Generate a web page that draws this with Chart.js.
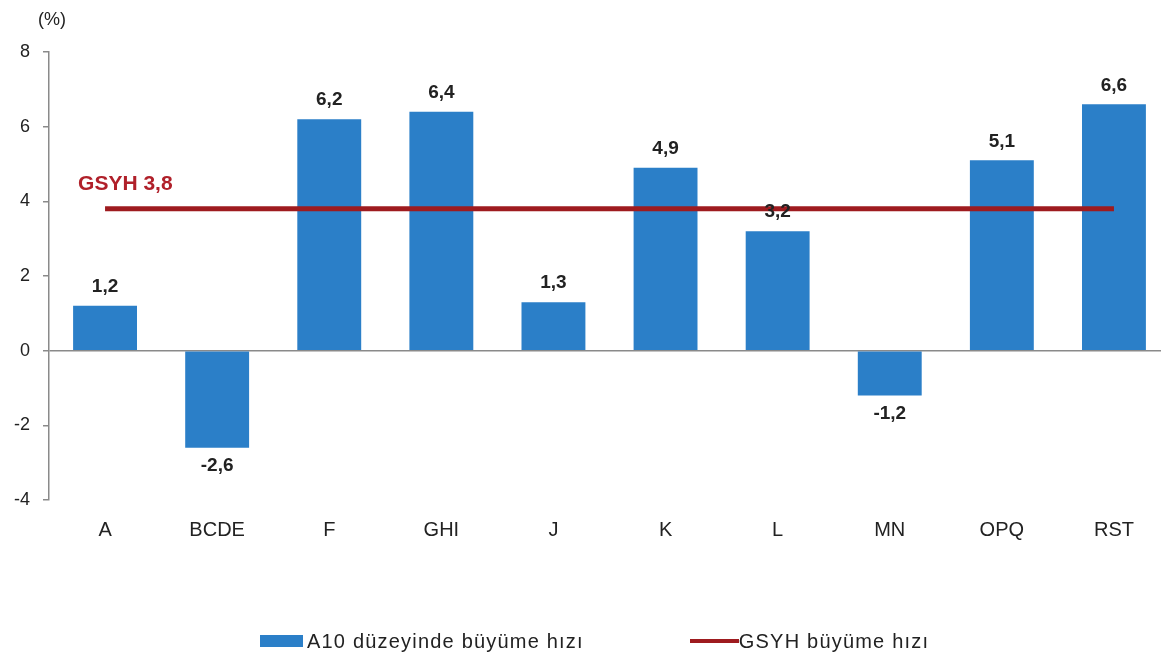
<!DOCTYPE html>
<html>
<head>
<meta charset="utf-8">
<script src="https://cdn.jsdelivr.net/npm/chart.js@4.4.1/dist/chart.umd.min.js"></script>
<style>
  html, body { margin: 0; padding: 0; background: #fff; overflow: hidden; }
  #wrap { position: relative; width: 1172px; height: 657px; }
  #legend {
    position: absolute; left: 0; top: 629px; height: 24px;
    display: flex; align-items: center;
    font: 20px 'Liberation Sans', Arial, sans-serif; letter-spacing: 1.2px; color: #222;
  }
  #legend .box { width: 43px; height: 12px; background: #2b7fc8; margin-left: 260px; }
  #legend .line { width: 49px; height: 4px; background: #9e1b1f; margin-left: 106px; }
  #legend .txt1 { margin-left: 4px; }
</style>
</head>
<body>
<div id="wrap">
  <canvas id="chart" width="1172" height="657"></canvas>
  <div id="legend">
    <span class="box"></span><span class="txt1">A10 düzeyinde büyüme hızı</span>
    <span class="line"></span><span>GSYH büyüme hızı</span>
  </div>
</div>
<script>
const categories = ["A", "BCDE", "F", "GHI", "J", "K", "L", "MN", "OPQ", "RST"];
const growth = [1.2, -2.6, 6.2, 6.4, 1.3, 4.9, 3.2, -1.2, 5.1, 6.6];
const gdpGrowth = 3.8;
const gdpLine = categories.map(() => gdpGrowth);
const yTicks = [-4, -2, 0, 2, 4, 6, 8];

const textColor = "#222";
const barColor = "#2b7fc8";
const lineColor = "#9e1b1f";
const font = "'Liberation Sans', Arial, sans-serif";
const fmt = v => String(v).replace(".", ",");

const labelPlugin = {
    id: "labels",
    afterDatasetsDraw(chart) {
        const ctx = chart.ctx;
        const bars = chart.getDatasetMeta(0).data;
        ctx.save();
        ctx.font = "bold 19px " + font;
        ctx.fillStyle = "#222";
        ctx.textAlign = "center";
        ctx.textBaseline = "middle";
        bars.forEach((bar, i) => {
            const v = growth[i];
            const y = v >= 0 ? bar.y - 19 : bar.y + 18;
            ctx.fillText(fmt(v), bar.x, y);
        });
        // GSYH label above the line start
        const pt = chart.getDatasetMeta(1).data[0];
        ctx.font = "bold 21px " + font;
        ctx.fillStyle = "#b0202a";
        ctx.textAlign = "left";
        ctx.fillText("GSYH " + fmt(gdpGrowth), pt.x - 27, pt.y - 25);
        // unit label
        ctx.font = "18px " + font;
        ctx.fillStyle = "#222";
        ctx.textAlign = "center";
        ctx.fillText("(%)", chart.chartArea.left + 3, chart.chartArea.top - 32);
        ctx.restore();
    },
};

new Chart(document.getElementById("chart"), {
    type: "bar",
    data: {
        labels: categories,
        datasets: [
            {
                label: "A10 düzeyinde büyüme hızı",
                data: growth,
                backgroundColor: barColor,
                borderWidth: 0,
                barPercentage: 0.57,
                categoryPercentage: 1,
                order: 2,
            },
            {
                type: "line",
                label: "GSYH büyüme hızı",
                data: gdpLine,
                borderColor: lineColor,
                backgroundColor: lineColor,
                borderWidth: 5,
                pointRadius: 0,
                fill: false,
                order: 1,
            },
        ],
    },
    options: {
        responsive: false,
        animation: false,
        layout: { padding: { top: 52, left: 0, right: 2, bottom: 97 } },
        plugins: {
            tooltip: { enabled: false },
            legend: { display: false },
        },
        scales: {
            x: {
                grid: { display: false },
                border: { display: false },
                ticks: {
                    color: textColor,
                    padding: 10,
                    font: { size: 20, family: font },
                },
                afterFit: s => { s.height = 60; },
            },
            y: {
                min: -4,
                max: 8,
                afterBuildTicks: s => { s.ticks = yTicks.map(v => ({ value: v })); },
                grid: {
                    drawOnChartArea: true,
                    color: c => (c.tick && c.tick.value === 0 ? "#8a8a8a" : "rgba(0,0,0,0)"),
                    lineWidth: 1.5,
                    tickColor: "#8a8a8a",
                    tickLength: 6,
                },
                border: { color: "#8a8a8a", width: 1.5 },
                ticks: {
                    color: textColor,
                    padding: 13,
                    font: { size: 18, family: font },
                },
                afterFit: s => { s.width = 49; },
            },
        },
    },
    plugins: [labelPlugin],
});
</script>
</body>
</html>
